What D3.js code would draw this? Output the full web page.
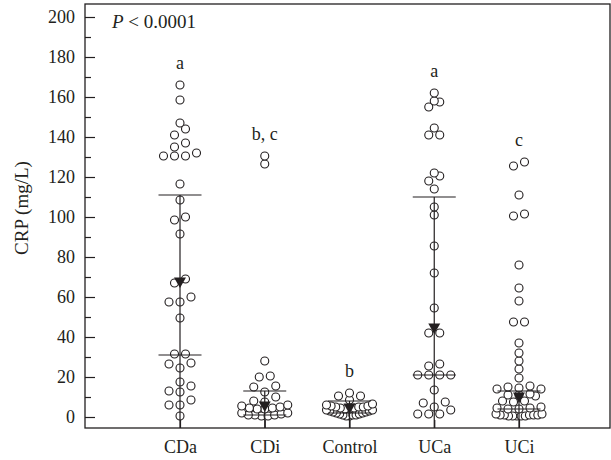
<!DOCTYPE html>
<html>
<head>
<meta charset="utf-8">
<script src="https://cdn.jsdelivr.net/npm/d3@7"></script>
<style>
  body { margin: 0; background: #fff; }
  svg text { font-family: "Liberation Serif", "DejaVu Serif", serif; fill: #231f20; }
</style>
</head>
<body>
<div id="chart"></div>
<script>
// groups on the x axis
var groups = ["CDa", "CDi", "Control", "UCa", "UCi"];

// CRP values (mg/L) per group
var cdaValues = [166, 158.5, 147, 144, 141, 137, 135, 132, 130.5, 130.5, 130.5, 116.5, 108.5, 100, 98.5, 91.5,
  69, 67, 60, 57.5, 57.5, 49.5, 31.5, 31.5, 27, 26.5, 24.5, 17.5, 15.5, 13, 12.5, 8.5, 6, 6, 0.5];
var cdiValues = [130.5, 126.5, 28, 20.5, 20, 15.5, 15, 12.5, 10, 8, 7.5, 6, 5.5, 5, 4.5, 4.5, 4, 4,
  2, 2, 1.5, 1, 1, 1, 0.5, 0.5];
var controlValues = [12, 10.5, 10.5, 8.5, 6.5, 6, 5.5, 5.5, 5, 5, 5, 4.5, 4.5, 4, 4, 3.5, 3.5, 3, 3, 2.5, 2.5,
  2, 2, 1.5, 1.5, 1, 1, 1, 0.5, 0.5];
var ucaValues = [162, 158, 157.5, 155, 144.5, 141, 141, 122, 120.5, 118, 114, 105, 101, 85.5, 72, 54.5,
  42, 42, 26.5, 25.5, 21, 21, 21, 21, 13.5, 7.5, 7, 5, 3.5, 1.5, 1.5, 1.5];
var uciValues = [127.5, 125.5, 111, 101.5, 100.5, 76, 64.5, 58, 47.5, 47.5, 37, 32, 28, 24, 19.5, 15.5, 15,
  14.5, 14, 14, 11.5, 11, 11, 10.5, 8, 8, 7.5, 5, 4.5, 4.5, 4, 4, 1.5, 1.5, 1, 1, 1, 1, 1,
  0.5, 0.5, 0.5, 0.5, 0.5];

// triangle marker and the bar caps
var centreValues = [68, 6, 5, 45, 10.5];
var capHigh = [111, 13, 8, 110, 13];
var capLow = [31, 1, 2, 21, 4];
var groupLetters = ["a", "b, c", "b", "a", "c"];

var yTicks = [0, 20, 40, 60, 80, 100, 120, 140, 160, 180, 200];
var yMinorTicks = [10, 30, 50, 70, 90, 110, 130, 150, 170, 190];

var allValues = [cdaValues, cdiValues, controlValues, ucaValues, uciValues];

var width = 611, height = 460;
var plotLeft = 85, plotTop = 4, plotRight = 610, plotBottom = 428;

var svg = d3.select("#chart").append("svg")
  .attr("width", width)
  .attr("height", height);

var x = d3.scalePoint()
  .domain(groups)
  .range([plotLeft + 95, plotLeft + 434]);

var y = d3.scaleLinear()
  .domain([-5.5, 206.5])
  .range([plotBottom, plotTop]);

var ink = "#231f20";

// put the points of a group in rows, centre-out like the original
function swarm(vals) {
  var binPx = 6, step = 11, maxW = 46;
  var sorted = vals.slice().sort(function(a, b) { return a - b; });
  var rows = [], cur = null;
  sorted.forEach(function(v) {
    if (!cur || y(cur.start) - y(v) > binPx) {
      cur = { start: v, pts: [] };
      rows.push(cur);
    }
    cur.pts.push(v);
  });
  var out = [];
  rows.forEach(function(r) {
    var n = r.pts.length;
    var sp = n > 1 ? Math.min(step, maxW / (n - 1)) : 0;
    r.pts.forEach(function(v, i) {
      var slot;
      if (n % 2 === 1) {
        slot = i === 0 ? 0 : (i % 2 === 1 ? -Math.ceil(i / 2) : Math.ceil(i / 2));
      } else {
        var k = Math.floor(i / 2) + 0.5;
        slot = i % 2 === 0 ? -k : k;
      }
      out.push({ v: v, dx: slot * sp });
    });
  });
  return out;
}

// frame
svg.append("rect")
  .attr("x", plotLeft)
  .attr("y", plotTop)
  .attr("width", plotRight - plotLeft)
  .attr("height", plotBottom - plotTop)
  .attr("fill", "none")
  .attr("stroke", ink)
  .attr("stroke-width", 1.3);

// y axis, ticks pointing in
var yAxis = svg.append("g")
  .attr("transform", "translate(" + plotLeft + ",0)")
  .call(d3.axisLeft(y).tickValues(yTicks).tickSize(-10).tickPadding(10));
yAxis.select(".domain").remove();
yAxis.selectAll("line").attr("stroke", ink).attr("stroke-width", 1.2);
yAxis.selectAll("text").style("font-size", "18px").attr("fill", ink);

var yMinor = svg.append("g")
  .attr("transform", "translate(" + plotLeft + ",0)")
  .call(d3.axisLeft(y).tickValues(yMinorTicks).tickSize(-6).tickFormat(""));
yMinor.select(".domain").remove();
yMinor.selectAll("line").attr("stroke", ink).attr("stroke-width", 1.2);

// x axis
var xAxis = svg.append("g")
  .attr("transform", "translate(0," + plotBottom + ")")
  .call(d3.axisBottom(x).tickSize(-8).tickPadding(12));
xAxis.select(".domain").remove();
xAxis.selectAll("line").attr("stroke", ink).attr("stroke-width", 1.2);
xAxis.selectAll("text").style("font-size", "18px").attr("fill", ink);

// y label
svg.append("text")
  .attr("transform", "translate(21," + ((plotTop + plotBottom) / 2 - 8) + ") rotate(-90)")
  .attr("text-anchor", "middle")
  .attr("dy", "0.35em")
  .style("font-size", "19px")
  .text("CRP (mg/L)");

// P value
var pText = svg.append("text")
  .attr("x", plotLeft + 27)
  .attr("y", plotTop + 24)
  .style("font-size", "19px");
pText.append("tspan").style("font-style", "italic").text("P");
pText.append("tspan").text(" < 0.0001");

// points
groups.forEach(function(g, i) {
  var pts = swarm(allValues[i]);
  svg.append("g").selectAll("circle")
    .data(pts)
    .enter().append("circle")
    .attr("cx", function(d) { return x(g) + d.dx; })
    .attr("cy", function(d) { return y(d.v); })
    .attr("r", 4)
    .attr("fill", "#fff")
    .attr("stroke", ink)
    .attr("stroke-width", 1.1);
});

// bars: vertical line from upper cap down to the frame, two caps
var bars = svg.append("g");
groups.forEach(function(g, i) {
  bars.append("line")
    .attr("x1", x(g)).attr("x2", x(g))
    .attr("y1", y(capHigh[i])).attr("y2", plotBottom)
    .attr("stroke", ink).attr("stroke-width", 1.2);
  [capHigh[i], capLow[i]].forEach(function(c) {
    bars.append("line")
      .attr("x1", x(g) - 21.5).attr("x2", x(g) + 21.5)
      .attr("y1", y(c)).attr("y2", y(c))
      .attr("stroke", ink).attr("stroke-width", 1.2);
  });
});

// centre marker
svg.append("g").selectAll("path")
  .data(groups)
  .enter().append("path")
  .attr("d", d3.symbol().type(d3.symbolTriangle).size(62))
  .attr("transform", function(g, i) {
    return "translate(" + x(g) + "," + y(centreValues[i]) + ") rotate(180)";
  })
  .attr("fill", ink);

// group letters above the highest point
svg.append("g").selectAll("text")
  .data(groups)
  .enter().append("text")
  .attr("x", function(g) { return x(g); })
  .attr("y", function(g, i) { return y(d3.max(allValues[i])) - 22; })
  .attr("dy", "0.35em")
  .attr("text-anchor", "middle")
  .style("font-size", "18px")
  .text(function(g, i) { return groupLetters[i]; });
</script>
</body>
</html>
